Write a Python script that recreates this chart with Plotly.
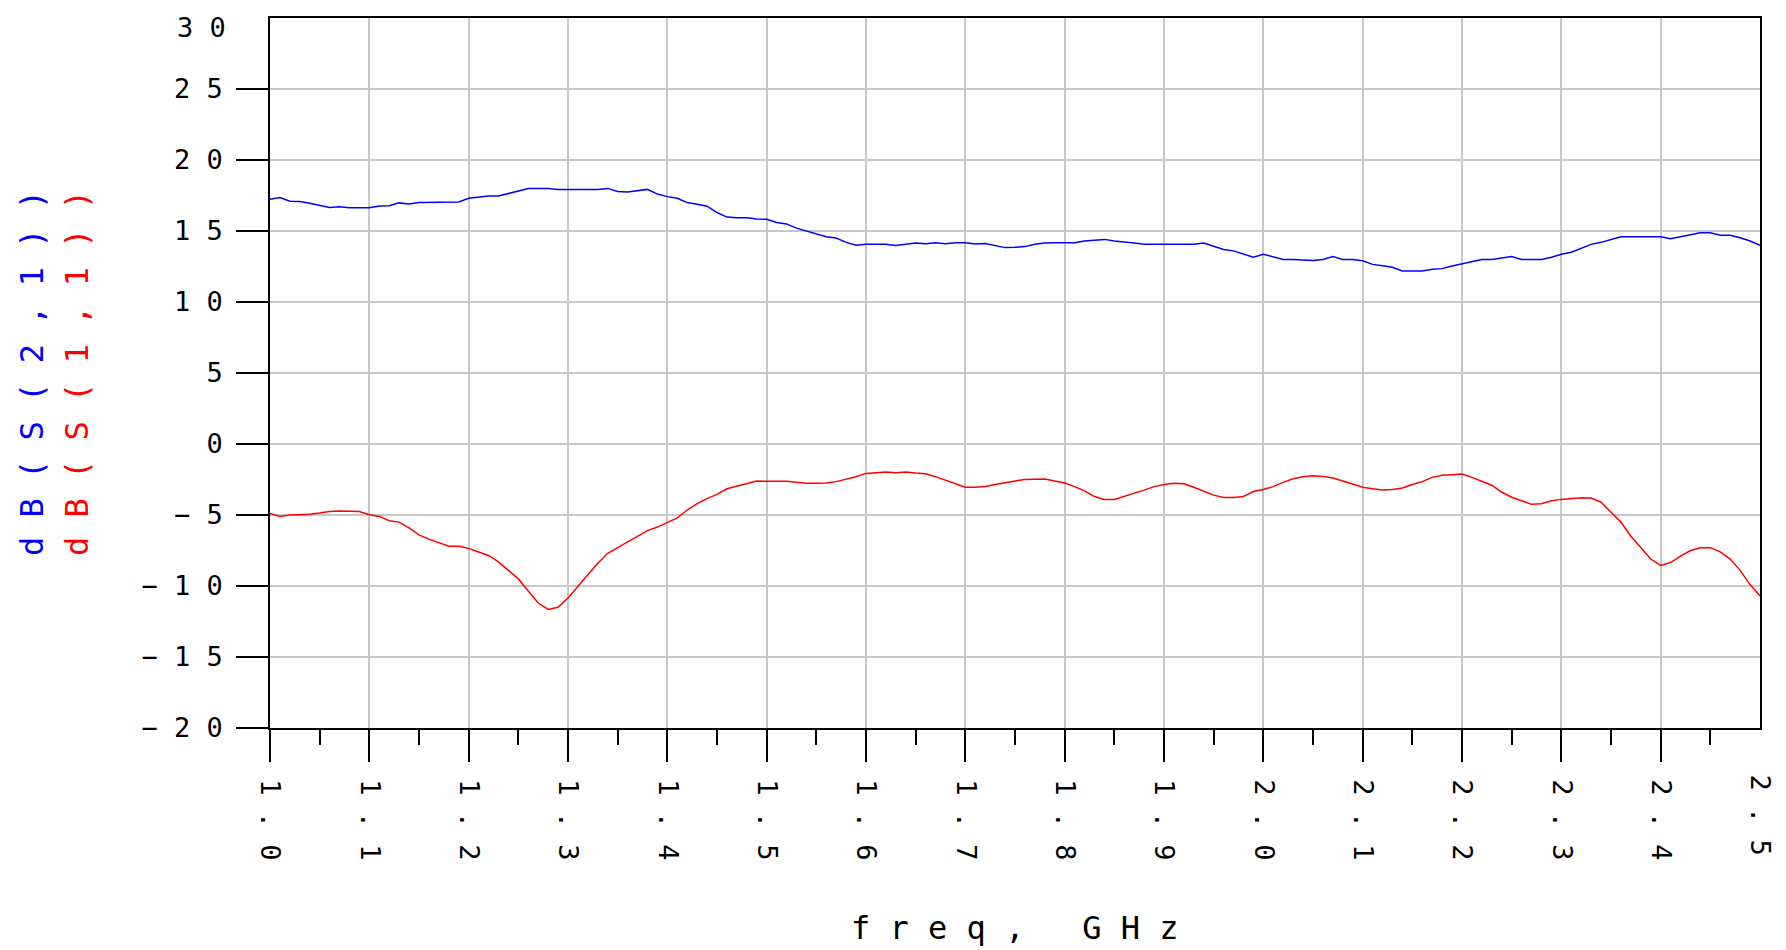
import numpy as np
import plotly.graph_objects as go

# frequency axis (GHz), sampled every 0.01 GHz
freq = [round(1.0 + 0.01 * i, 2) for i in range(151)]

# dB(S(2,1))
s21 = [
    17.23, 17.35, 17.10, 17.07, 16.95, 16.82, 16.66, 16.70, 16.64, 16.64,
    16.64, 16.76, 16.78, 16.98, 16.90, 17.00, 17.00, 17.05, 17.00, 17.05,
    17.30, 17.40, 17.46, 17.46, 17.65, 17.80, 18.00, 18.00, 18.00, 17.93,
    17.93, 17.93, 17.93, 17.93, 18.00, 17.78, 17.75, 17.82, 17.93, 17.60,
    17.42, 17.30, 17.00, 16.88, 16.75, 16.30, 15.98, 15.94, 15.94, 15.85,
    15.82, 15.60, 15.50, 15.20, 15.00, 14.85, 14.60, 14.50, 14.20, 14.00,
    14.06, 14.06, 14.06, 13.98, 14.06, 14.15, 14.10, 14.18, 14.10, 14.18,
    14.18, 14.08, 14.12, 13.95, 13.83, 13.85, 13.90, 14.06, 14.15, 14.18,
    14.18, 14.18, 14.30, 14.35, 14.41, 14.30, 14.20, 14.15, 14.06, 14.06,
    14.06, 14.06, 14.06, 14.06, 14.15, 13.90, 13.70, 13.60, 13.40, 13.15,
    13.36, 13.20, 13.00, 13.00, 12.95, 12.92, 13.00, 13.20, 13.00, 13.00,
    12.90, 12.65, 12.55, 12.45, 12.18, 12.18, 12.18, 12.30, 12.35, 12.53,
    12.70, 12.88, 13.00, 13.00, 13.12, 13.20, 13.00, 13.00, 13.00, 13.15,
    13.36, 13.50, 13.80, 14.06, 14.20, 14.40, 14.60, 14.60, 14.60, 14.60,
    14.60, 14.45, 14.60, 14.70, 14.88, 14.88, 14.70, 14.70, 14.53, 14.30,
    14.00,
]

# dB(S(1,1))
s11 = [
    -4.90, -5.10, -5.00, -4.98, -4.95, -4.86, -4.75, -4.72, -4.72, -4.75,
    -4.98, -5.10, -5.40, -5.50, -5.90, -6.40, -6.70, -6.95, -7.20, -7.20,
    -7.35, -7.60, -7.85, -8.30, -8.90, -9.50, -10.35, -11.20, -11.65, -11.50,
    -10.85, -10.00, -9.20, -8.40, -7.70, -7.30, -6.90, -6.45, -6.10, -5.85,
    -5.55, -5.20, -4.65, -4.20, -3.85, -3.55, -3.15, -2.95, -2.80, -2.60,
    -2.63, -2.63, -2.63, -2.70, -2.77, -2.77, -2.75, -2.65, -2.50, -2.30,
    -2.07, -2.02, -1.98, -2.02, -1.97, -2.05, -2.10, -2.30, -2.55, -2.85,
    -3.05, -3.05, -3.00, -2.85, -2.70, -2.60, -2.50, -2.46, -2.46, -2.60,
    -2.75, -3.00, -3.30, -3.70, -3.90, -3.90, -3.70, -3.50, -3.25, -3.00,
    -2.85, -2.77, -2.80, -3.05, -3.30, -3.60, -3.76, -3.76, -3.70, -3.35,
    -3.20, -3.00, -2.70, -2.45, -2.30, -2.23, -2.28, -2.40, -2.60, -2.85,
    -3.05, -3.15, -3.24, -3.20, -3.10, -2.85, -2.65, -2.35, -2.20, -2.16,
    -2.12, -2.35, -2.60, -2.90, -3.40, -3.75, -4.00, -4.25, -4.20, -4.00,
    -3.90, -3.85, -3.78, -3.80, -4.10, -4.80, -5.50, -6.50, -7.30, -8.10,
    -8.55, -8.35, -7.90, -7.50, -7.30, -7.30, -7.60, -8.10, -8.90, -9.90,
    -10.70,
]

# axis ticks
x_major = [1.0, 1.1, 1.2, 1.3, 1.4, 1.5, 1.6, 1.7, 1.8, 1.9, 2.0, 2.1, 2.2, 2.3, 2.4]
x_labels = ["1 . 0", "1 . 1", "1 . 2", "1 . 3", "1 . 4", "1 . 5", "1 . 6", "1 . 7",
            "1 . 8", "1 . 9", "2 . 0", "2 . 1", "2 . 2", "2 . 3", "2 . 4"]
x_end, x_end_label = 2.5, "2 . 5"
x_minor = [1.05, 1.15, 1.25, 1.35, 1.45, 1.55, 1.65, 1.75, 1.85, 1.95,
           2.05, 2.15, 2.25, 2.35, 2.45]
y_major = [25, 20, 15, 10, 5, 0, -5, -10, -15, -20]
y_labels = ["2 5", "2 0", "1 5", "1 0", "5", "0", "− 5", "− 1 0", "− 1 5", "− 2 0"]
y_end, y_end_label = 30, "3 0"

FONT = "DejaVu Sans Mono"
BLUE = "#0000ff"
RED = "#ff0000"

fig = go.Figure()
fig.add_trace(go.Scatter(x=freq, y=s21, mode="lines", name="dB(S(2,1))",
                         line=dict(color=BLUE, width=1.5)))
fig.add_trace(go.Scatter(x=freq, y=s11, mode="lines", name="dB(S(1,1))",
                         line=dict(color=RED, width=1.5)))

# the page body adds an 8px offset, so the figure is sized 8px smaller
fig.update_layout(
    width=1778, height=942,
    margin=dict(l=262, r=26, t=10, b=222),
    paper_bgcolor="white", plot_bgcolor="white",
    showlegend=False,
)

fig.update_xaxes(
    range=[1.0, 2.5], tickvals=x_major, ticktext=x_labels, tickangle=90,
    ticks="outside", ticklen=32, tickwidth=1.5, tickcolor="black",
    showline=True, linecolor="black", linewidth=1.5, mirror=True,
    showgrid=True, gridcolor="#c8c8c8", gridwidth=1.5, zeroline=False,
    tickfont=dict(family=FONT, size=27, color="black"),
    ticklabelstandoff=12, automargin=False,
    minor=dict(tickvals=x_minor, ticks="outside", ticklen=15, tickwidth=1.5,
               tickcolor="black", showgrid=False),
)
fig.update_yaxes(
    range=[-20, 30], tickvals=y_major, ticktext=y_labels,
    ticks="outside", ticklen=32, tickwidth=1.5, tickcolor="black",
    showline=True, linecolor="black", linewidth=1.5, mirror=True,
    showgrid=True, gridcolor="#c8c8c8", gridwidth=1.5, zeroline=False,
    tickfont=dict(family=FONT, size=27, color="black"),
    ticklabelstandoff=8, automargin=False,
)

# end labels without tick marks
fig.add_annotation(x=x_end, xref="x", y=0, yref="paper", text=x_end_label,
                   textangle=90, showarrow=False, xanchor="center", yanchor="top",
                   yshift=-44, font=dict(family=FONT, size=27, color="black"))
fig.add_annotation(x=0, xref="paper", y=y_end, yref="y", text=y_end_label,
                   showarrow=False, xanchor="right", yanchor="top",
                   xshift=-42, yshift=8, font=dict(family=FONT, size=27, color="black"))

# axis titles
fig.add_annotation(x=0, xref="paper", y=0.5, yref="paper",
                   text="d B ( S ( 2 , 1 ) )", textangle=-90, showarrow=False,
                   xanchor="center", yanchor="middle", xshift=-238,
                   font=dict(family=FONT, size=32, color=BLUE))
fig.add_annotation(x=0, xref="paper", y=0.5, yref="paper",
                   text="d B ( S ( 1 , 1 ) )", textangle=-90, showarrow=False,
                   xanchor="center", yanchor="middle", xshift=-193,
                   font=dict(family=FONT, size=32, color=RED))
fig.add_annotation(x=0.5, xref="paper", y=0, yref="paper",
                   text="f r e q ,   G H z", showarrow=False,
                   xanchor="center", yanchor="middle", yshift=-200,
                   font=dict(family=FONT, size=32, color="black"))

fig.write_html("out.html")
